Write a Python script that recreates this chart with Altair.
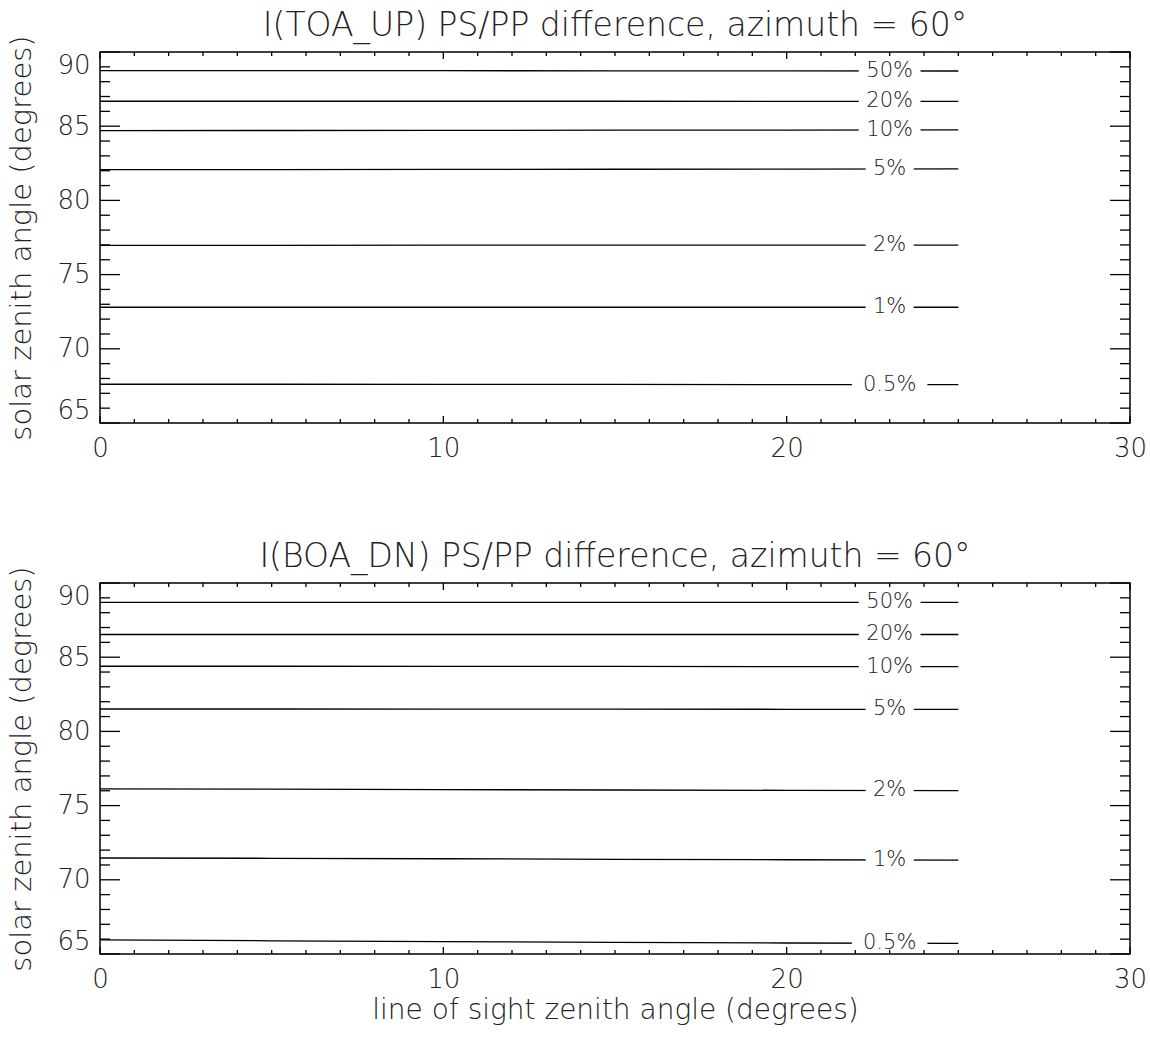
import altair as alt
import pandas as pd
import numpy as np

# ---- data ----
x_los = [0, 5, 10, 15, 20, 25]
levels = ["50%", "20%", "10%", "5%", "2%", "1%", "0.5%"]

toa_up = {
    "50%": [88.74, 88.74, 88.74, 88.73, 88.73, 88.72],
    "20%": [86.68, 86.68, 86.68, 86.68, 86.67, 86.67],
    "10%": [84.70, 84.71, 84.72, 84.73, 84.74, 84.75],
    "5%": [82.07, 82.08, 82.09, 82.10, 82.11, 82.12],
    "2%": [76.97, 76.97, 76.98, 76.98, 76.99, 76.99],
    "1%": [72.80, 72.80, 72.80, 72.80, 72.80, 72.80],
    "0.5%": [67.61, 67.61, 67.60, 67.60, 67.59, 67.58],
}
boa_dn = {
    "50%": [88.70, 88.70, 88.70, 88.70, 88.70, 88.70],
    "20%": [86.53, 86.53, 86.53, 86.53, 86.53, 86.53],
    "10%": [84.39, 84.39, 84.38, 84.38, 84.37, 84.37],
    "5%": [81.51, 81.51, 81.50, 81.50, 81.49, 81.49],
    "2%": [76.13, 76.11, 76.08, 76.05, 76.03, 76.01],
    "1%": [71.47, 71.45, 71.42, 71.38, 71.35, 71.33],
    "0.5%": [65.95, 65.89, 65.83, 65.78, 65.74, 65.72],
}
label_x = 23.0

x_ticks_minor = list(range(0, 31))
x_ticks_major = [0, 10, 20, 30]
y_ticks_minor = list(range(65, 91))
y_ticks_major = [65, 70, 75, 80, 85, 90]

FONT = "DejaVu Sans"
TXT = "#222222"
W, H = 1030, 371


def panel(series, title, xtitle):
    rows = []
    lab = []
    for lev in levels:
        for xv, yv in zip(x_los, series[lev]):
            rows.append({"level": lev, "x": xv, "y": yv})
        ly = float(np.interp(label_x, x_los, series[lev]))
        half = 0.2 * len(lev) + 0.3
        lab.append({"level": lev, "x": label_x, "y": ly,
                    "xlo": label_x - half, "xhi": label_x + half})
    df = pd.DataFrame(rows)
    ldf = pd.DataFrame(lab)

    xscale = alt.Scale(domain=[0, 30], nice=False, zero=False)
    yscale = alt.Scale(domain=[65, 90], nice=False, zero=False)
    xaxis = alt.Axis(values=x_ticks_major, format="d", ticks=False, domain=False,
                     grid=False, labelFontSize=26, labelFont=FONT, labelColor=TXT,
                     labelFontWeight=200, labelPadding=12, labelFlush=False,
                     titleFontSize=28, titleFont=FONT, titleFontWeight=200,
                     titleColor=TXT, titlePadding=4)
    yaxis = alt.Axis(values=y_ticks_major, format="d", ticks=False, domain=False,
                     grid=False, labelFontSize=26, labelFont=FONT, labelColor=TXT,
                     labelFontWeight=200, labelPadding=10, labelFlush=True,
                     titleFontSize=29, titleFont=FONT, titleFontWeight=200,
                     titleColor=TXT, titlePadding=20)

    def X(f):
        return alt.X(f, type="quantitative", scale=xscale, axis=xaxis,
                     title=xtitle if xtitle else None)

    def Y(f):
        return alt.Y(f, type="quantitative", scale=yscale, axis=yaxis,
                     title="solar zenith angle (degrees)")

    lines = alt.Chart(df).mark_line(color="black", strokeWidth=1.3).encode(
        x=X("x"), y=Y("y"), detail="level:N")
    mask = alt.Chart(ldf).mark_rule(color="white", strokeWidth=18).encode(
        x=X("xlo"), x2=alt.X2("xhi"), y=Y("y"))
    text = alt.Chart(ldf).mark_text(font=FONT, fontSize=21, fontWeight=200,
                                    color=TXT, baseline="middle", align="center").encode(
        x=X("x"), y=Y("y"), text="level:N")

    ymin = pd.DataFrame({"v": [v for v in y_ticks_minor if v not in y_ticks_major]})
    ymaj = pd.DataFrame({"v": y_ticks_major})
    xmin = pd.DataFrame({"v": [v for v in x_ticks_minor if v not in x_ticks_major]})
    xmaj = pd.DataFrame({"v": x_ticks_major})

    tk = dict(color="black", strokeWidth=1.3)
    ticks = []
    for d, ln in ((ymin, 10), (ymaj, 20)):
        ticks.append(alt.Chart(d).mark_rule(**tk).encode(
            y=Y("v"), x=alt.value(0), x2=alt.value(ln)))
        ticks.append(alt.Chart(d).mark_rule(**tk).encode(
            y=Y("v"), x=alt.value(W - ln), x2=alt.value(W)))
    for d, ln in ((xmin, 4), (xmaj, 7)):
        ticks.append(alt.Chart(d).mark_rule(**tk).encode(
            x=X("v"), y=alt.value(H), y2=alt.value(H - ln)))
        ticks.append(alt.Chart(d).mark_rule(**tk).encode(
            x=X("v"), y=alt.value(0), y2=alt.value(ln)))

    return alt.layer(lines, mask, text, *ticks).properties(
        width=W, height=H,
        title=alt.TitleParams(title, fontSize=33, font=FONT, fontWeight=200,
                              color=TXT, anchor="middle", offset=-8))


top = panel(toa_up, "I(TOA_UP) PS/PP difference, azimuth = 60°", None)
bot = panel(boa_dn, "I(BOA_DN) PS/PP difference, azimuth = 60°",
            "line of sight zenith angle (degrees)")

chart = alt.vconcat(top, bot, spacing=78).properties(
    padding={"left": 7, "top": 9, "right": 0, "bottom": 3},
    background="white",
).configure_view(stroke="black", strokeWidth=1.5)

chart.save("out.html", embed_options={"renderer": "svg", "actions": False})
